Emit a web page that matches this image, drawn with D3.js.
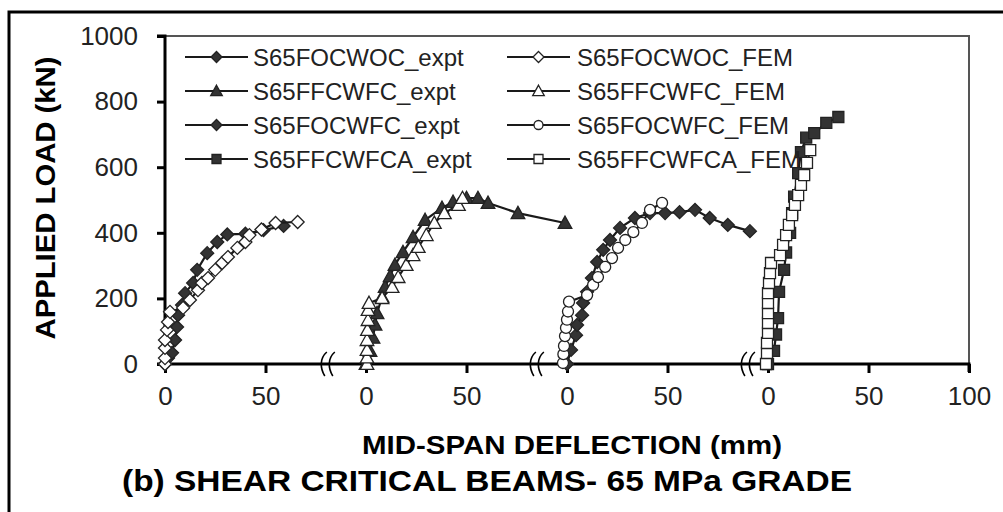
<!DOCTYPE html>
<html>
<head>
<meta charset="utf-8">
<script src="https://cdn.jsdelivr.net/npm/d3@7"></script>
<style>
  html, body { margin: 0; padding: 0; background: #fff; }
  svg { display: block; }
  text { font-family: "Liberation Sans", Arial, sans-serif; }
</style>
</head>
<body>
<svg id="chart" width="1003" height="512"></svg>
<script>
// ---------------- DATA ----------------
// Each group of beams is plotted on its own broken x-segment (offset by groupOffset)
const seriesNames = [
  "S65FOCWOC_expt", "S65FOCWOC_FEM",
  "S65FFCWFC_expt", "S65FFCWFC_FEM",
  "S65FOCWFC_expt", "S65FOCWFC_FEM",
  "S65FFCWFCA_expt", "S65FFCWFCA_FEM"
];
const groupOffset = [0, 0, 100, 100, 200, 200, 300, 300];

// deflection (mm) / load (kN)
const s1x = [0, 1.5, 3.5, 5, 6, 6.5, 8.5, 10, 14, 16, 21, 26, 31, 40, 49, 59];
const s1y = [0, 18, 34, 73, 113, 149, 180, 216, 247, 287, 338, 372, 395, 397, 408, 421];

const s2x = [0, 0, 0, 0, 1, 1.5, 2.5, 9, 12.4, 16.4, 18.4, 21.4, 25, 28.4, 31.3, 36, 40, 42, 48, 55, 66];
const s2y = [0, 18, 49, 73, 104, 128, 159, 171, 195, 225, 247, 262, 287, 308, 326, 354, 372, 393, 410, 430, 433];

const s3x = [0, 2, 3.5, 4.5, 5.5, 8, 9.5, 12, 14.4, 18.4, 23.4, 29.4, 37.8, 43.3, 50, 55.7, 60.7, 75.6, 99];
const s3y = [0, 40, 80, 120, 155, 205, 235, 268, 302, 341, 387, 439, 476, 494, 506, 506, 491, 460, 430];

const s4x = [0.5, 0.5, 0.5, 0.5, 0.7, 1, 1, 1.5, 8, 13, 16, 20, 23.4, 26, 30, 34, 39, 46, 48];
const s4y = [0, 20, 43, 73, 104, 134, 165, 186, 201, 235, 265, 302, 332, 357, 393, 430, 460, 485, 506];

const s5x = [0, 2, 4.5, 5, 7.5, 8, 10, 12.4, 15, 18, 21.4, 26.4, 33.8, 41.3, 48.8, 56, 63.7, 71, 80, 91];
const s5y = [0, 43, 88, 119, 149, 186, 220, 262, 311, 348, 378, 415, 445, 460, 460, 463, 470, 445, 424, 405];

const s6x = [-2, -1.8, -1.5, -1, -0.5, 0, 0.5, 1, 10, 13, 15.4, 19, 22.4, 25.4, 29, 33, 37.3, 41.3, 47.3];
const s6y = [3, 30, 55, 85, 110, 135, 160, 190, 210, 241, 265, 296, 323, 354, 378, 402, 430, 470, 491];

const s7x = [0, 3, 4, 5, 5.5, 8, 9, 11, 12, 13, 15, 16.4, 19, 23, 29, 35];
const s7y = [0, 40, 90, 140, 220, 287, 340, 400, 460, 510, 582, 646, 690, 704, 735, 753];

const s8x = [-1, -0.5, -0.5, 0, 0, 0, 0, 0, 0.5, 1, 1.5, 6, 7.5, 9, 10.4, 12, 13.4, 15, 16.4, 18, 19.4, 21];
const s8y = [0, 34, 64, 95, 125, 155, 186, 216, 247, 277, 308, 332, 363, 393, 424, 454, 485, 515, 546, 576, 613, 652];

const seriesX = [s1x, s2x, s3x, s4x, s5x, s6x, s7x, s8x];
const seriesY = [s1y, s2y, s3y, s4y, s5y, s6y, s7y, s8y];
const markerType = ["diamond", "diamond", "triangle", "triangle", "diamond", "circle", "square", "square"];
const markerFilled = [true, false, true, false, true, false, true, false];

const xTickValues = [0, 50, 100, 150, 200, 250, 300, 350, 400];
const xTickLabels = ["0", "50", "0", "50", "0", "50", "0", "50", "100"];
const yTickValues = [0, 200, 400, 600, 800, 1000];
const breakPositions = [81, 185, 290];

// ---------------- LAYOUT ----------------
const svg = d3.select("#chart");
const L = 165, R = 969, T = 36, B = 364;
const x = d3.scaleLinear().domain([0, 400]).range([L, R]);
const y = d3.scaleLinear().domain([0, 1000]).range([B, T]);

// outer figure frame (left + top)
svg.append("path")
  .attr("d", `M9,512 L9,12 L1003,12`)
  .attr("fill", "none").attr("stroke", "#000").attr("stroke-width", 3);

// plot area border (top + right, grey)
svg.append("path")
  .attr("d", `M${L},${T} L${R},${T} L${R},${B}`)
  .attr("fill", "none").attr("stroke", "#555").attr("stroke-width", 2);

function markerPath(type, r) {
  if (type === "diamond") return `M0,${-r}L${r},0L0,${r}L${-r},0Z`;
  if (type === "triangle") return `M0,${-r}L${r},${r * 0.8}L${-r},${r * 0.8}Z`;
  if (type === "square") return `M${-r},${-r}H${r}V${r}H${-r}Z`;
  if (type === "circle") return `M${r},0A${r},${r} 0 1,1 ${-r},0A${r},${r} 0 1,1 ${r},0Z`;
}
const markerR = { diamond: 6.5, triangle: 6.8, square: 5.5, circle: 5.5 };

// axes
const yAxis = d3.axisLeft(y).tickValues(yTickValues).tickSize(8).tickPadding(19).tickFormat(d3.format("d"));
const gy = svg.append("g").attr("transform", `translate(${L},0)`).call(yAxis);
const xAxis = d3.axisBottom(x).tickValues(xTickValues).tickSize(9).tickPadding(14)
  .tickFormat((d, i) => xTickLabels[i]);
const gx = svg.append("g").attr("transform", `translate(0,${B})`).call(xAxis);

[gx, gy].forEach(g => {
  g.select(".domain").attr("stroke", "#000").attr("stroke-width", 3);
  g.selectAll(".tick line").attr("stroke", "#000").attr("stroke-width", 3);
  g.selectAll(".tick text").attr("fill", "#222").style("font-size", "26px")
    .style("font-family", "'Liberation Sans', Arial, sans-serif");
});
gy.select(".domain").attr("d", `M-8,${y(1000)}H0V${B}`);
gx.select(".domain").attr("d", `M${L - 8},0H${R}V8`);

// axis break marks
breakPositions.forEach(b => {
  const cx = x(b);
  [-4, 4].forEach(dx => {
    svg.append("path")
      .attr("d", `M${cx + dx + 3},${B - 12} C${cx + dx - 4},${B - 6} ${cx + dx - 4},${B + 4} ${cx + dx + 1},${B + 12}`)
      .attr("fill", "none").attr("stroke", "#000").attr("stroke-width", 1.6);
  });
});

// series
const line = d3.line();
seriesNames.forEach((name, si) => {
  const pts = seriesX[si].map((v, i) => [x(v + groupOffset[si]), y(seriesY[si][i])]);
  const g = svg.append("g");
  g.append("path").attr("d", line(pts)).attr("fill", "none")
    .attr("stroke", "#1a1a1a").attr("stroke-width", 2.2);
  g.selectAll("path.m").data(pts).join("path").attr("class", "m")
    .attr("transform", d => `translate(${d[0]},${d[1]})`)
    .attr("d", markerPath(markerType[si], markerR[markerType[si]]))
    .attr("fill", markerFilled[si] ? "#333" : "#fff")
    .attr("stroke", "#222").attr("stroke-width", 1.3);
});

// legend
const legendRowY = [57, 91, 125, 159];
const legendCols = [{ x1: 185, x2: 248, tx: 253 }, { x1: 507, x2: 570, tx: 577 }];
seriesNames.forEach((name, si) => {
  const col = legendCols[si % 2];
  const ry = legendRowY[Math.floor(si / 2)];
  const g = svg.append("g");
  g.append("line").attr("x1", col.x1).attr("x2", col.x2).attr("y1", ry).attr("y2", ry)
    .attr("stroke", "#1a1a1a").attr("stroke-width", 2.2);
  g.append("path").attr("transform", `translate(${(col.x1 + col.x2) / 2},${ry})`)
    .attr("d", markerPath(markerType[si], markerR[markerType[si]] - 1))
    .attr("fill", markerFilled[si] ? "#333" : "#fff")
    .attr("stroke", "#222").attr("stroke-width", 1.3);
  g.append("text").attr("x", col.tx).attr("y", ry + 8.5)
    .style("font-size", "24px").attr("fill", "#222").text(name);
});

// titles
svg.append("text")
  .attr("transform", `translate(55,198) rotate(-90)`)
  .attr("text-anchor", "middle")
  .attr("textLength", 283).attr("lengthAdjust", "spacingAndGlyphs")
  .style("font-size", "28px").style("font-weight", "bold").attr("fill", "#000")
  .text("APPLIED LOAD (kN)");

svg.append("text")
  .attr("x", 362).attr("y", 454)
  .attr("textLength", 420).attr("lengthAdjust", "spacingAndGlyphs")
  .style("font-size", "26px").style("font-weight", "bold").attr("fill", "#000")
  .text("MID-SPAN DEFLECTION (mm)");

svg.append("text")
  .attr("x", 122).attr("y", 491)
  .attr("textLength", 730).attr("lengthAdjust", "spacingAndGlyphs")
  .style("font-size", "30px").style("font-weight", "bold").attr("fill", "#000")
  .text("(b) SHEAR CRITICAL BEAMS- 65 MPa GRADE");
</script>
</body>
</html>
